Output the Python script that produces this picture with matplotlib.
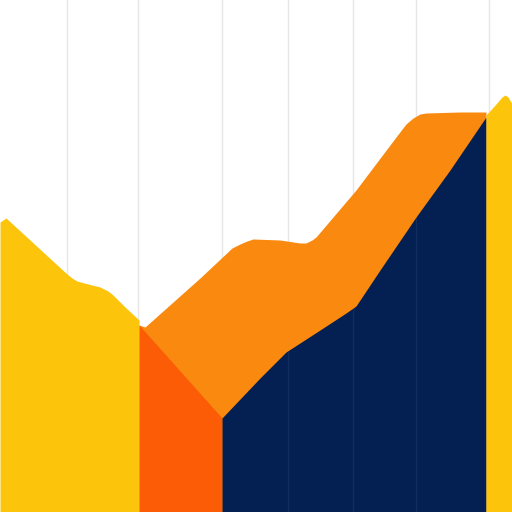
import matplotlib
matplotlib.use("Agg")
import matplotlib.pyplot as plt

# positions along x (0..512) and heights of each band's top edge (0..512 from bottom)
left_x = [0, 6, 30, 67, 72, 77, 88, 100, 108, 113, 125, 139]
left_top = [290, 294, 272, 238, 234, 231, 228, 225, 221, 217, 205, 192]

red_x = [139, 222]
red_top = [187, 94]

orange_x = [139, 145, 200, 232, 240, 247, 253, 280, 300, 306, 312, 316,
            356, 396, 406, 413, 420, 426, 460, 486]
orange_top = [187, 185, 234, 264, 268, 271, 273, 272, 269, 269, 272, 275,
              322, 375, 388, 394, 398, 399, 400, 400]

navy_x = [222, 260, 286, 320, 346, 356, 380, 416, 450, 486]
navy_top = [94, 134, 160, 182, 199, 206, 242, 295, 342, 395]

right_x = [486, 496, 502, 505, 508, 512]
right_top = [397, 408, 415, 417, 415, 408]

grid_x = [67, 138, 222, 288, 353, 416, 489]

yellow = "#FDC40C"
orange = "#F9890F"
red = "#FB5C05"
navy = "#041F52"

fig = plt.figure(figsize=(5.12, 5.12), dpi=100)
ax = fig.add_axes([0, 0, 1, 1])
ax.set_xlim(0, 512)
ax.set_ylim(0, 512)
ax.axis("off")

for gx in grid_x:
    ax.axvline(gx, color="#e6e6e6", linewidth=1, zorder=0)

ax.fill_between(orange_x, 0, orange_top, color=orange, linewidth=0, zorder=1)
ax.fill_between(left_x, 0, left_top, color=yellow, linewidth=0, zorder=2)
ax.fill_between(red_x, 0, red_top, color=red, linewidth=0, zorder=2)
ax.fill_between(navy_x, 0, navy_top, color=navy, linewidth=0, zorder=2)
ax.fill_between(right_x, 0, right_top, color=yellow, linewidth=0, zorder=2)

# faint grid showing through the dark band
for i, gx in enumerate(grid_x[3:6]):
    ax.plot([gx, gx], [0, navy_top[[2, 5, 7][i]]], color="white", alpha=0.06,
            linewidth=1, zorder=3)

fig.savefig("out.png", dpi=100, facecolor="white")
